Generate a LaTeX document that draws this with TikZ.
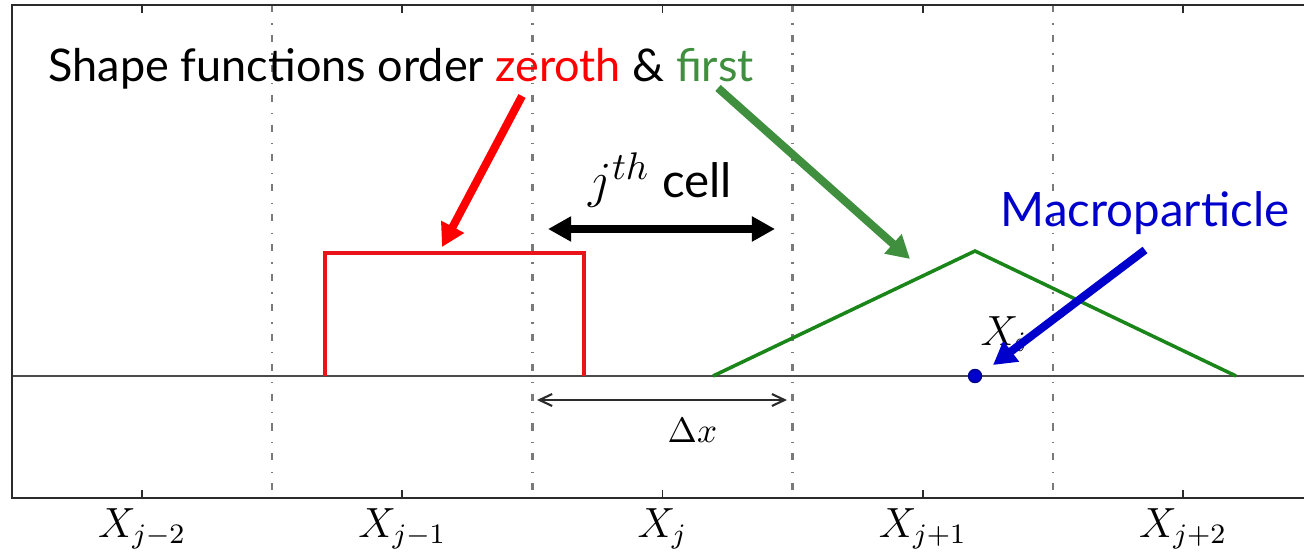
\documentclass[tikz,border=0pt]{standalone}
\usepackage{fontspec}
\setsansfont{Lato}
\usepackage{xcolor}
\usepackage{tikz}
\usetikzlibrary{arrows.meta}
\definecolor{zeroc}{HTML}{FF0000}
\definecolor{boxc}{HTML}{E8141A}
\definecolor{firstc}{HTML}{3F8F3F}
\definecolor{trigc}{HTML}{1A861A}
\definecolor{partc}{HTML}{0000CC}
\definecolor{gridc}{HTML}{7A7A7A}
\definecolor{axc}{HTML}{2B2B2B}
\tikzset{
  fatar/.style={-{Triangle[length=6.5pt,width=7pt]},line width=2.3pt},
  fatdbl/.style={{Triangle[length=6.6pt,width=6.8pt]}-{Triangle[length=6.6pt,width=6.8pt]},line width=2.3pt},
  thinar/.style={{Straight Barb[length=3.6pt,width=3.4pt]}-{Straight Barb[length=3.6pt,width=3.4pt]},axc,line width=0.6pt},
  gridln/.style={gridc,line width=0.65pt,dash pattern=on 2pt off 3.2pt on 0.4pt off 2.9pt},
  lbl/.style={font=\fontsize{13.5}{16}\sffamily,inner sep=0pt,anchor=base west},
  xlab/.style={font=\fontsize{12}{14}\selectfont,inner sep=0pt,anchor=base}
}

\begin{document}
\begin{tikzpicture}[x=0.01cm,y=-0.01cm]
\useasboundingbox (0,0) rectangle (1304,552);
% cell boundaries and ticks
\foreach \k in {0,...,3}
  \draw[gridln] (272.1+260.25*\k,5) -- (272.1+260.25*\k,498);
\foreach \k/\s in {0/j-2,1/j-1,2/j,3/j+1,4/j+2}{
  \draw[axc,line width=0.5pt] (142+260.25*\k,5) -- (142+260.25*\k,13);
  \draw[axc,line width=0.5pt] (142+260.25*\k,498) -- (142+260.25*\k,490);
  \node[xlab] (X\k) at (142+260.25*\k,537) {$X_{\s}$};
}
\draw[axc!85,line width=0.5pt] (12,376) -- (1304,376);
\draw[axc,line width=0.8pt] (1304,5) -- (12,5) -- (12,498) -- (1304,498);
% shape functions
\draw[boxc,line width=1pt] (325,376) -- (325,253) -- (584,253) -- (584,376);
\draw[trigc,line width=1pt] (713,376) -- (975,251) -- (1236,376);
\node[circle,fill=partc,draw=partc!70!black,line width=0.4pt,inner sep=0pt,minimum size=0.13cm] (part) at (975,376) {};
% labels
\node[lbl,font=\fontsize{12.8}{15}\sffamily] (title) at (48,82) {Shape functions order \textcolor{zeroc}{zeroth} \& \textcolor{firstc}{first}};
\node[lbl,partc] (macro) at (1000,227) {Macroparticle};
\node[lbl] (cell) at (588,198) {{\fontsize{15.5}{18}\selectfont$j^{th}$} cell};
\node[xlab,anchor=base west] (xi) at (980,345) {$X_i$};
\node[font=\fontsize{10.4}{12}\selectfont,inner sep=0pt,anchor=base west] (dx) at (667,442) {$\Delta x$};
% arrows
\coordinate (zeroTail) at (522,96);  \coordinate (zeroTip) at (442,247);
\coordinate (firstTail) at (718,88); \coordinate (firstTip) at (910,259);
\coordinate (macroTail) at (1145,250); \coordinate (macroTip) at (993,365);
\coordinate (cellL) at (548,229); \coordinate (cellR) at (775,229);
\coordinate (dxL) at (537,400); \coordinate (dxR) at (787,400);
\draw[fatar,zeroc] (zeroTail) -- (zeroTip);
\draw[fatar,firstc] (firstTail) -- (firstTip);
\draw[fatar,partc] (macroTail) -- (macroTip);
\draw[fatdbl,black] (cellL) -- (cellR);
\draw[thinar] (dxL) -- (dxR);
\end{tikzpicture}
\end{document}
